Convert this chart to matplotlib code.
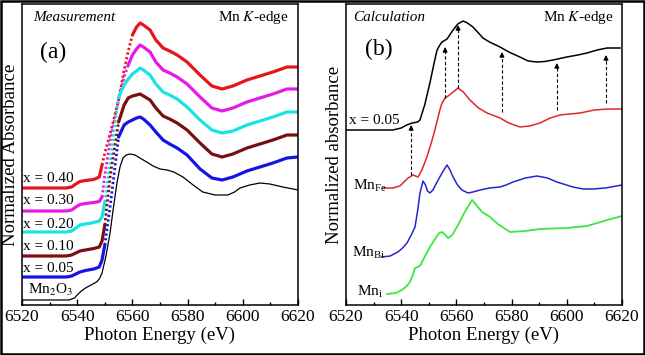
import numpy as np
import matplotlib
matplotlib.use("Agg")
import matplotlib.pyplot as plt
from matplotlib.ticker import MultipleLocator
from matplotlib.patches import Rectangle

plt.rcdefaults()
plt.rcParams['font.family'] = ['Liberation Serif', 'DejaVu Serif']
plt.rcParams['mathtext.fontset'] = 'stix'
for k in ['text.color', 'axes.labelcolor', 'xtick.color', 'ytick.color',
          'xtick.labelcolor', 'ytick.labelcolor', 'axes.edgecolor']:
    plt.rcParams[k] = 'black'
for k in ['figure.facecolor', 'savefig.facecolor', 'axes.facecolor']:
    plt.rcParams[k] = 'white'
plt.rcParams['savefig.transparent'] = False

# ---------------- data: (a) Measurement ----------------
E_meas = [6520, 6536, 6538, 6539.5, 6541, 6543, 6546, 6548, 6549, 6550, 6552, 6555, 6557,
          6558.5, 6560, 6561.5, 6562.8, 6564, 6566.4, 6568.5, 6571.1, 6573.5, 6576.2,
          6579.8, 6584.5, 6588.8, 6592.5, 6596.4, 6601.5, 6606.2, 6610.9, 6616, 6620]
y_x040 = [117, 117, 118, 121, 123.5, 124.5, 125.5, 128, 140, 152, 172, 205, 235,
          254, 270, 278, 282, 280, 275, 265, 257, 254, 250,
          243, 230, 219, 216, 219, 225, 229, 233, 238, 238]
y_x030 = [94, 94, 95, 98, 100.5, 101.5, 102.5, 103.5, 108, 130, 165, 205, 228,
          240, 250, 256, 260, 258, 253, 243, 235, 232, 228,
          221, 208, 197, 194, 197, 203, 207, 211, 216, 216]
y_x020 = [73, 73, 74, 77, 80, 81, 82.5, 84, 88, 103, 145, 208, 220,
          226, 231, 234, 237, 235, 230, 221, 213, 210, 206,
          198, 185, 175, 172, 174, 180, 184, 188, 193, 193]
y_x010 = [49, 49, 50, 52, 54, 55, 56.5, 58, 64, 80, 130, 183, 200,
          207, 209, 210, 211, 209, 205, 197, 189, 186, 182,
          175, 162, 151, 148, 151, 157, 161, 165, 170, 170]
y_x005 = [28, 28, 29, 31, 33, 34.5, 36, 38, 45, 60, 100, 168, 180,
          183, 185, 187, 188, 186, 180, 173, 165, 161, 157,
          150, 136, 127, 125, 128, 134, 138, 142, 147, 148]
# energy range drawn as dots (sparse edge data) for each sample
dot_ranges = [(6549, 6560), (6549, 6558.5), (6550, 6555), (6550, 6555), (6550, 6555)]
meas_labels = ['x = 0.40', 'x = 0.30', 'x = 0.20', 'x = 0.10', 'x = 0.05']
meas_colors = ['#e8141c', '#e619e6', '#19e3e3', '#7a0f12', '#1414e6']

E_mn2o3 = [6520, 6537, 6539, 6540, 6541.5, 6543, 6545, 6547, 6548, 6549, 6550.5, 6551.9,
           6553, 6554.4, 6555.5, 6556.6, 6557.8, 6559.1, 6561, 6562.7, 6565.2, 6567.5,
           6570, 6572.5, 6575, 6578.3, 6582, 6585.5, 6589.9, 6594.6, 6597, 6599, 6602.5,
           6606.2, 6609.8, 6614.5, 6620]
y_mn2o3 = [5, 5, 7, 10, 14, 17, 20, 23, 26, 32, 50, 72,
           95, 122, 138, 147, 150, 151, 150, 147, 143, 139,
           136, 135, 133, 128, 120, 113, 110, 110, 113, 117, 120,
           122, 121, 118, 115]

# ---------------- data: (b) Calculation ----------------
E_calc = [6520, 6537, 6540, 6542, 6544, 6546, 6546.8, 6548.5, 6550.4, 6552, 6553, 6554,
          6554.8, 6556.6, 6558.8, 6560.5, 6562.4, 6564, 6566, 6568, 6569.6, 6572, 6575.8,
          6579, 6583, 6586, 6589.2, 6592, 6595, 6600, 6604, 6607.3, 6611, 6614.6, 6619.3]
y_calc = [175, 175, 177, 180, 182, 183, 185, 200, 222, 243, 255, 260,
          263, 266, 275, 281, 284, 282, 278, 272, 267, 263, 258,
          253, 248, 244, 243, 243.5, 245, 248, 250, 252, 255, 257, 257]

E_fe = [6533.4, 6537, 6539.5, 6541, 6542.5, 6544.3, 6546.1, 6547.5, 6549.3, 6551, 6552.2,
        6554, 6554.8, 6555.9, 6557, 6558.4, 6560.6, 6562.5, 6564.9, 6568, 6571.1, 6575.8,
        6579, 6583, 6586.5, 6590.3, 6594, 6597.5, 6604.8, 6610, 6614.6, 6620]
y_fe = [117, 117, 119, 123, 127, 130, 128, 135, 148, 163, 175,
        195, 202, 207, 209, 212, 217, 213, 205, 197, 192, 187,
        182, 178, 179, 182, 187, 190, 192, 195, 196, 196]

E_bi = [6533, 6536, 6538.8, 6540.5, 6542.1, 6544, 6545, 6546, 6546.8, 6547.9, 6548.8,
        6549.5, 6550.4, 6551.5, 6553, 6555, 6556.6, 6557.7, 6558.8, 6560.4, 6562, 6564.2,
        6566, 6568.6, 6572, 6575.8, 6578, 6580.5, 6585, 6589.2, 6593, 6596.4, 6602.2,
        6606, 6609.5, 6614, 6620]
y_bi = [48, 49, 53, 57, 62, 72, 78, 95, 112, 124, 120,
        114, 112, 115, 123, 133, 140, 135, 128, 120, 115, 112,
        113, 115, 117, 118, 120, 123, 127, 129, 127, 123, 118,
        116, 116, 117, 120]

E_i = [6534.9, 6538, 6540.3, 6542, 6543.2, 6544.2, 6545, 6546.1, 6547, 6547.9, 6550.4,
       6552.5, 6553.8, 6554.8, 6556, 6557, 6558.5, 6560.6, 6563, 6565.7, 6567.5, 6569.3,
       6572.2, 6575, 6579.4, 6585, 6590.3, 6600.1, 6607.3, 6611, 6614.6, 6620]
y_i = [11, 12, 15, 19, 23, 30, 37, 38, 40, 45, 58,
       67, 72, 73, 70, 67, 70, 80, 93, 105, 99, 93,
       88, 81, 73, 74, 76, 77, 79, 82, 85, 89]

# dashed arrows: energy, start, end
arrow_E = [6543.6, 6555.9, 6560.6, 6576.5, 6596.4, 6614.2]
arrow_y0 = [130, 207, 217, 193, 195, 202]
arrow_y1 = [180, 258, 280, 253, 242, 250]

# ---------------- figure ----------------
fig = plt.figure(figsize=(6.45, 3.55), dpi=100, facecolor='white')
fig.patch.set_facecolor('white')
fig.patch.set_alpha(1.0)
fig.add_artist(Rectangle((0, 0), 1, 1, transform=fig.transFigure, facecolor='white',
                         edgecolor='none', zorder=-100))
fig.add_artist(Rectangle((0.0015, 0.003), 0.997, 0.994, transform=fig.transFigure,
                         fill=False, edgecolor='black', linewidth=1.8, zorder=100))

axA = fig.add_axes([22/645, 1-305/355, 276/645, 301/355])
axB = fig.add_axes([346/645, 1-305/355, 276/645, 301/355])

for ax in (axA, axB):
    ax.set_facecolor('white')
    ax.set_xlim(6520, 6620)
    ax.set_ylim(0, 301)
    ax.xaxis.set_major_locator(MultipleLocator(20))
    ax.xaxis.set_minor_locator(MultipleLocator(10))
    ax.tick_params(axis='x', which='both', direction='in', top=False, labelsize=12.5, pad=3,
                   colors='black')
    ax.tick_params(axis='x', which='major', length=4, width=1)
    ax.tick_params(axis='x', which='minor', length=2.5, width=1)
    ax.set_yticks([])
    for s in ax.spines.values():
        s.set_linewidth(1.1)
        s.set_edgecolor('black')
    ax.set_xlabel('Photon Energy (eV)', fontsize=13.5, labelpad=1, color='black')

# panel a
E = np.array(E_meas)
for ys, (lo, hi), col in zip([y_x040, y_x030, y_x020, y_x010, y_x005], dot_ranges, meas_colors):
    ys = np.array(ys)
    mlo = E <= lo
    mhi = E >= hi
    mdot = (E >= lo) & (E <= hi)
    axA.plot(E[mlo], ys[mlo], color=col, lw=2.3, solid_capstyle='round', solid_joinstyle='round')
    axA.plot(E[mhi], ys[mhi], color=col, lw=2.3, solid_capstyle='round', solid_joinstyle='round')
    axA.plot(E[mdot], ys[mdot], color=col, lw=2.0, linestyle=(0, (0.8, 0.9)))
axA.plot(E_mn2o3, y_mn2o3, color='black', lw=0.9)

axA.set_ylabel('Normalized Absorbance', fontsize=13.5, labelpad=2, color='black')
axA.text(0.04, 0.945, 'Measurement', transform=axA.transAxes, style='italic', fontsize=11)
axA.text(0.71, 0.945, 'Mn $\\mathit{K}$-edge', transform=axA.transAxes, fontsize=11)
axA.text(0.065, 0.82, '(a)', transform=axA.transAxes, fontsize=17)
lab_y = [305-178, 305-201, 305-224, 305-247, 305-269]
for txt, ly in zip(meas_labels, lab_y):
    axA.text(6520.3, ly, txt, fontsize=11, va='center', ha='left')
axA.text(6522, 305-290, 'Mn$_2$O$_3$', fontsize=11, va='center', ha='left')

# panel b
axB.plot(E_calc, y_calc, color='black', lw=1.1, solid_joinstyle='round')
axB.plot(E_fe, y_fe, color='#e02828', lw=1.1, solid_joinstyle='round')
axB.plot(E_bi, y_bi, color='#2525d0', lw=1.1, solid_joinstyle='round')
axB.plot(E_i, y_i, color='#3ee63e', lw=1.3, solid_joinstyle='round')
for xe, a0, a1 in zip(arrow_E, arrow_y0, arrow_y1):
    axB.plot([xe, xe], [a0, a1 - 4], color='black', lw=0.8, ls=(0, (3, 2)))
    axB.annotate('', xy=(xe, a1), xytext=(xe, a1 - 5),
                 arrowprops=dict(arrowstyle='-|>', color='black', lw=0.8,
                                 mutation_scale=7, shrinkA=0, shrinkB=0))

axB.set_ylabel('Normalized absorbance', fontsize=13.5, labelpad=2, color='black')
axB.text(0.025, 0.945, 'Calculation', transform=axB.transAxes, style='italic', fontsize=11)
axB.text(0.715, 0.945, 'Mn $\\mathit{K}$-edge', transform=axB.transAxes, fontsize=11)
axB.text(0.07, 0.83, '(b)', transform=axB.transAxes, fontsize=17)
axB.text(6521, 305-120, 'x = 0.05', fontsize=11, va='center', ha='left')
axB.text(6522.5, 305-186, 'Mn$_{\\mathregular{Fe}}$', fontsize=11, va='center', ha='left')
axB.text(6522.2, 305-253, 'Mn$_{\\mathregular{Bi}}$', fontsize=11, va='center', ha='left')
axB.text(6524, 305-292, 'Mn$_{\\mathregular{i}}$', fontsize=11, va='center', ha='left')

fig.savefig('out.png', dpi=100, facecolor='white', transparent=False)
